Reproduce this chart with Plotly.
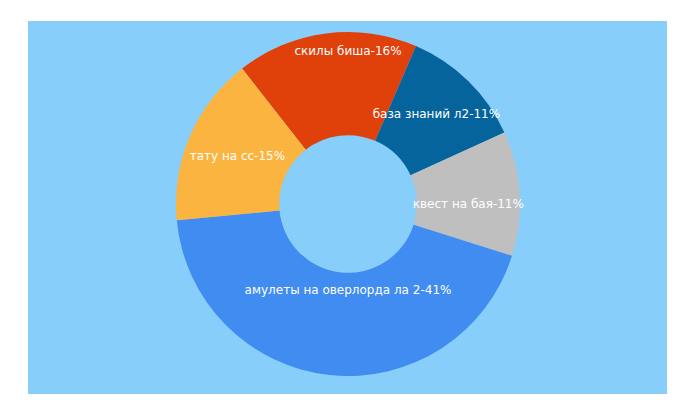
import plotly.graph_objects as go

labels = ["скилы биша", "база знаний л2", "квест на бая", "амулеты на оверлорда ла 2", "тату на сс"]
values = [16, 11, 11, 41, 15]
colors = ["#E0400A", "#05649B", "#BFBFBF", "#418CF0", "#FCB441"]

fig = go.Figure(go.Pie(
    labels=labels, values=values, sort=False, direction="clockwise", rotation=-38,
    hole=0.4, marker=dict(colors=colors, line=dict(width=0)),
    texttemplate="%{label}-%{value}%", textposition="inside", insidetextorientation="horizontal",
    textfont=dict(family="DejaVu Sans", size=12, color="white"), showlegend=False,
    domain=dict(x=[0.2, 0.8], y=[0.08, 0.94]),
))
fig.update_layout(
    width=680, height=400, margin=dict(l=0, r=0, t=0, b=0),
    paper_bgcolor="white",
    uniformtext=dict(minsize=12, mode="show"),
    shapes=[dict(type="rect", xref="paper", yref="paper", x0=20/680, x1=659/680,
                 y0=1-386/400, y1=1-13/400, fillcolor="#87CEFA", line=dict(width=0), layer="below")],
)
fig.write_html("out.html")
